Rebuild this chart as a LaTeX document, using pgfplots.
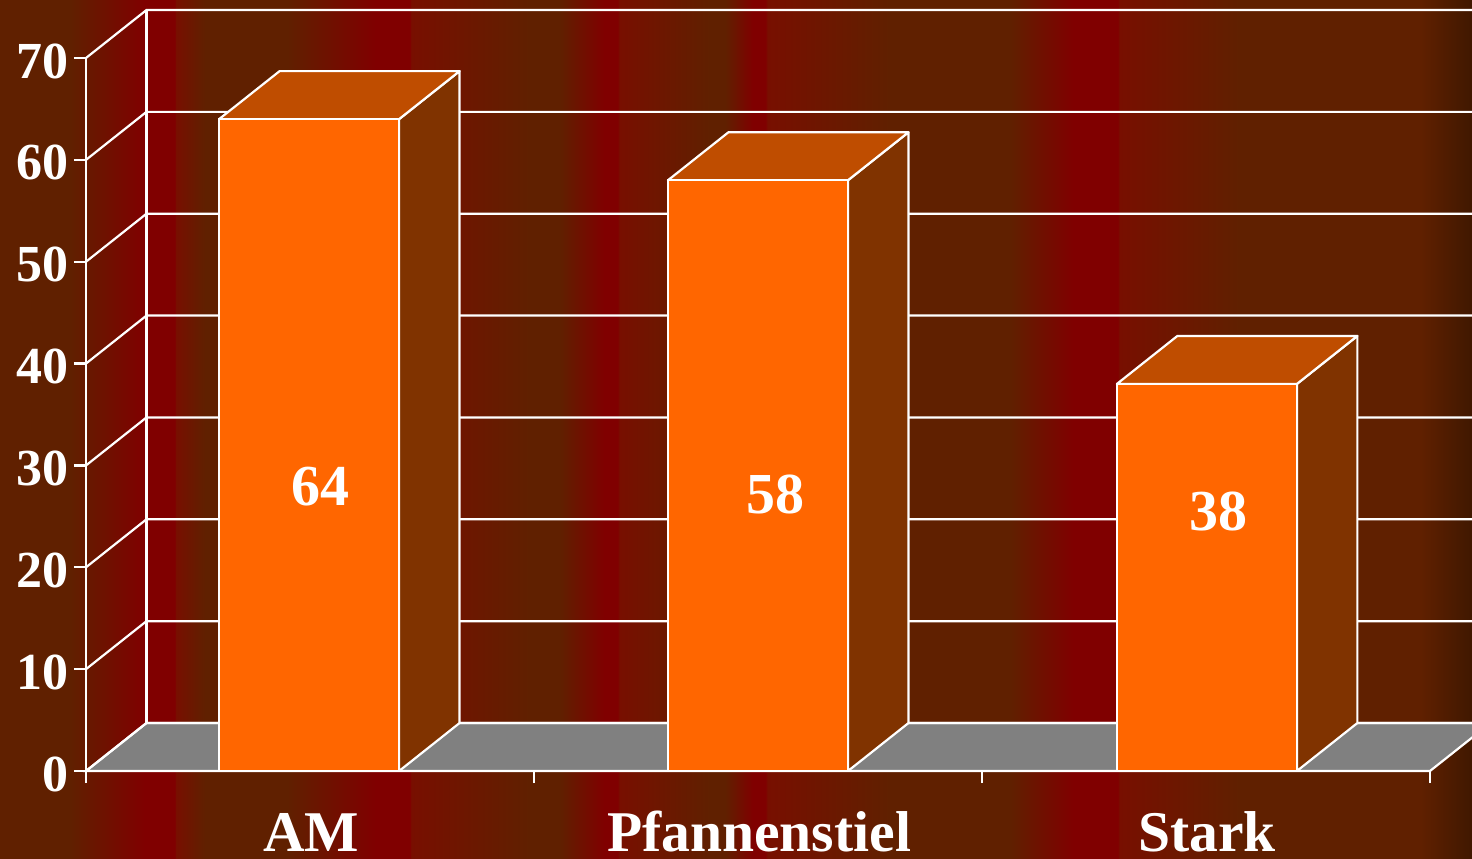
\documentclass[border=0pt]{standalone}
\usepackage{fontspec}
\setmainfont{Liberation Serif}
\usepackage{pgfplots}
\pgfplotsset{compat=1.18}

\definecolor{stripebrown}{RGB}{96,32,0}
\definecolor{stripered}{RGB}{128,0,0}
\definecolor{stripemid}{RGB}{120,15,0}
\definecolor{edgedark}{RGB}{64,24,0}
\definecolor{barfront}{RGB}{255,102,0}
\definecolor{bartop}{RGB}{191,77,0}
\definecolor{barside}{RGB}{128,51,0}
\definecolor{floorgray}{RGB}{128,128,128}

% Vertical stripes of the slide background
\pgfdeclarehorizontalshading{stripes}{100bp}{
  color(0bp)=(stripebrown);
  color(25bp)=(stripebrown);
  color(27.38bp)=(stripebrown);
  color(29.93bp)=(stripered);
  color(30.94bp)=(stripered);
  color(30.98bp)=(stripemid);
  color(31.96bp)=(stripebrown);
  color(34.75bp)=(stripebrown);
  color(37.77bp)=(stripered);
  color(38.93bp)=(stripered);
  color(38.96bp)=(stripemid);
  color(43.0bp)=(stripebrown);
  color(44.02bp)=(stripebrown);
  color(45.52bp)=(stripered);
  color(45.99bp)=(stripered);
  color(46.03bp)=(stripemid);
  color(49.12bp)=(stripebrown);
  color(49.63bp)=(stripebrown);
  color(50.58bp)=(stripered);
  color(51.02bp)=(stripered);
  color(51.05bp)=(stripemid);
  color(55.23bp)=(stripebrown);
  color(59.31bp)=(stripebrown);
  color(61.45bp)=(stripered);
  color(62.98bp)=(stripered);
  color(63.01bp)=(stripemid);
  color(67.12bp)=(stripebrown);
  color(73.24bp)=(stripebrown);
  color(75bp)=(edgedark);
  color(100bp)=(edgedark)}

% Oblique offset of the 3D effect, in axis units
\def\dx{0.135}
\def\dy{4.712}
\def\hw{0.2009}

% Top and side faces of one bar: centre, value
\newcommand{\barfaces}[2]{%
  \addplot[fill=barside,draw=white,line width=1.1pt,line join=round] coordinates
    {(#1+\hw,0) (#1+\hw+\dx,\dy) (#1+\hw+\dx,#2+\dy) (#1+\hw,#2)} -- cycle;
  \addplot[fill=bartop,draw=white,line width=1.1pt,line join=round] coordinates
    {(#1-\hw,#2) (#1-\hw+\dx,#2+\dy) (#1+\hw+\dx,#2+\dy) (#1+\hw,#2)} -- cycle;
}

\begin{document}
\begin{tikzpicture}
\path[use as bounding box,clip] (-43pt,-43.5pt) rectangle (693pt,385.5pt);
\shade[shading=stripes] (-43pt,-43.5pt) rectangle (693pt,385.5pt);
\begin{axis}[
  at={(0pt,0pt)},anchor=south west,
  scale only axis,width=672pt,height=356.5pt,
  xmin=-0.5,xmax=2.5,ymin=0,ymax=70,
  clip=false,
  axis x line*=bottom,axis y line*=left,
  axis line style={-,white,line width=1.1pt},
  tick style={white,line width=1.1pt},
  tick align=outside,
  major tick length=6pt,
  xtick={-0.5,0.5,1.5,2.5},
  xticklabels={,,,},
  extra x ticks={0,1,2},
  extra x tick labels={AM,Pfannenstiel,Stark},
  extra x tick style={
    tick style={draw=none},
    xticklabel style={white,font=\fontsize{28.8}{28.8}\selectfont\bfseries,
      anchor=base,yshift=-34pt,xshift=0.5pt,inner sep=0pt},
  },
  ytick={0,10,...,70},
  yticklabel style={white,font=\fontsize{26}{26}\selectfont\bfseries,
    inner sep=0pt,xshift=-2.5pt,yshift=-1.5pt},
  /pgf/number format/assume math mode=true,
]
% Floor
\addplot[fill=floorgray,draw=white,line width=1.1pt] coordinates
  {(-0.5,0) (-0.5+\dx,\dy) (2.5+\dx,\dy) (2.5,0)} -- cycle;
% Side wall diagonals and back wall grid
\pgfplotsinvokeforeach{0,10,20,30,40,50,60,70}{
  \addplot[white,line width=1.1pt] coordinates
    {(-0.5,#1) (-0.5+\dx,#1+\dy) (2.5+\dx,#1+\dy)};
}
\addplot[white,line width=1.1pt] coordinates {(-0.5+\dx,\dy) (-0.5+\dx,70+\dy)};
% Bars
\barfaces{-0.002}{64}
\barfaces{1}{58}
\barfaces{2.002}{38}
\addplot[ybar,bar shift=0pt,bar width=90pt,fill=barfront,draw=white,line width=1.1pt]
  coordinates {(-0.002,64) (1,58) (2.002,38)};
% Value labels
\node[white,font=\fontsize{29}{29}\selectfont\bfseries] at (axis cs:0.023,27.9) {64};
\node[white,font=\fontsize{29}{29}\selectfont\bfseries] at (axis cs:1.038,27.1) {58};
\node[white,font=\fontsize{29}{29}\selectfont\bfseries] at (axis cs:2.027,25.5) {38};
\end{axis}
\end{tikzpicture}
\end{document}
